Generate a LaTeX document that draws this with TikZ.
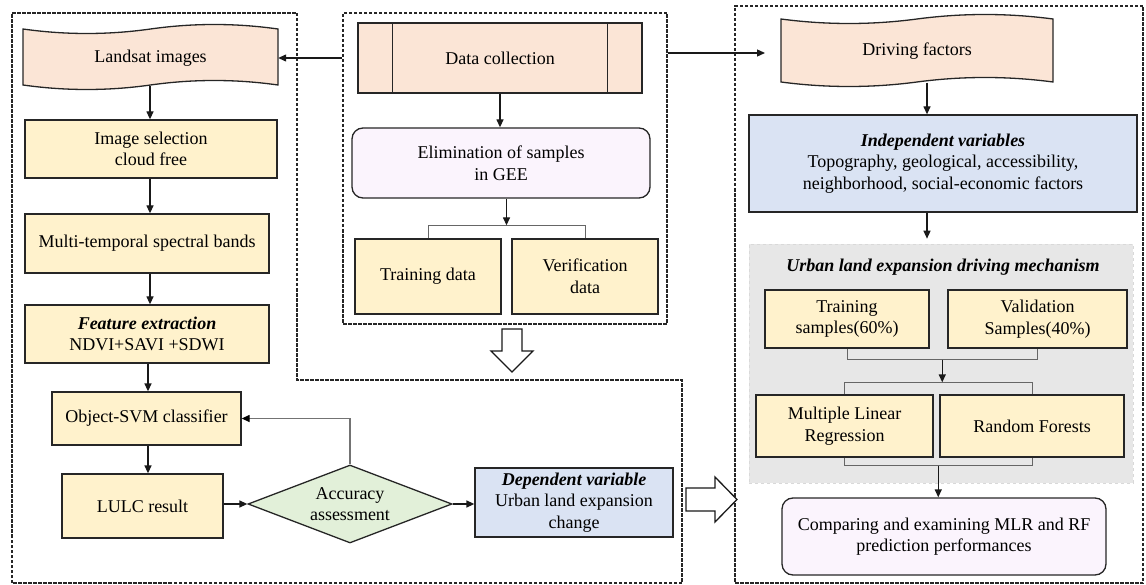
\documentclass[tikz,border=0pt]{standalone}
\usepackage{fontspec}
\setmainfont{Liberation Serif}
\usetikzlibrary{arrows.meta,shapes.geometric,calc}
\definecolor{peach}{HTML}{FBE5D6}
\definecolor{ylw}{HTML}{FFF2CC}
\definecolor{blu}{HTML}{DAE3F3}
\definecolor{grn}{HTML}{E2F0D9}
\definecolor{lav}{HTML}{FBF4FD}
\definecolor{gry}{HTML}{E7E7E7}
\tikzset{
  base/.style={font=\fontsize{18pt}{21.6pt}\selectfont, align=center, inner sep=0pt},
  box/.style={base, draw=black!85, line width=1.3pt, fill=ylw},
  bluebox/.style={box, fill=blu},
  roundbox/.style={box, fill=lav, rounded corners=11pt},
  tape/.style={draw=black!85, line width=1.3pt, fill=peach},
  dbox/.style={draw=black!85, line width=1.1pt, dash pattern=on 3.5pt off 1.5pt, inner sep=0pt},
  arr/.style={draw=black!90, line width=1.3pt, -{Triangle[length=8pt,width=7pt]}},
  brk/.style={draw=black!60, line width=1pt},
  garr/.style={draw=black!55, line width=1.3pt, -{Triangle[length=8pt,width=7pt,color=black]}},
  blockarrow/.style={draw=black!90, line width=1.3pt, fill=white},
}
\begin{document}
\begin{tikzpicture}[x=1pt,y=-1pt]
\useasboundingbox (0,0) rectangle (1146,585);

% dashed regions
\draw[dbox] (12,13) -- (297,13) -- (297,380) -- (682,380) -- (682,583) -- (12,583) -- cycle;
\node[dbox, minimum width=324pt, minimum height=311pt] (mid) at (505,168.5) {};
\node[dbox, minimum width=408pt, minimum height=577pt] (rbox) at (939,294.5) {};

% ---------- left column ----------
\draw[tape] (23,29) .. controls (65.5,35) and (108,35) .. (150.5,29)
  .. controls (193,23) and (235.5,23) .. (278,29) -- (278,85)
  .. controls (235.5,79) and (193,79) .. (150.5,85)
  .. controls (108,91) and (65.5,91) .. (23,85) -- cycle;
\node[base, minimum width=255pt, minimum height=56pt] (land) at (150.5,58) {Landsat images};

\node[box, minimum width=252pt, minimum height=58pt] (imgsel) at (151,149) {Image selection\\cloud free};
\node[box, minimum width=244pt, minimum height=59pt] (multi) at (147,243.5) {Multi-temporal spectral bands};
\node[box, minimum width=244pt, minimum height=58pt] (feat) at (147,334) {\textbf{\textit{Feature extraction}}\\NDVI+SAVI +SDWI};
\node[box, minimum width=189pt, minimum height=53pt] (svm) at (146.5,418.5) {Object-SVM classifier};
\node[box, minimum width=161pt, minimum height=64pt] (lulc) at (142.5,506) {LULC result};
\node[base, diamond, draw=black!85, line width=1.3pt, fill=grn, aspect=2.615,
      minimum width=204pt, minimum height=78pt] (acc) at (350,504) {Accuracy\\assessment};
\node[bluebox, minimum width=198pt, minimum height=69pt] (dep) at (574,502.5)
  {\textbf{\textit{Dependent variable}}\\Urban land expansion\\change};

\coordinate (cl) at (150,0);
\coordinate (cl2) at (148,0);
\draw[arr] (land.south -| cl) -- (imgsel.north -| cl);
\draw[arr] (imgsel.south -| cl) -- (multi.north -| cl);
\draw[arr] (multi.south -| cl) -- (feat.north -| cl);
\draw[arr] (feat.south -| cl2) -- (svm.north -| cl2);
\draw[arr] (svm.south -| cl2) -- (lulc.north -| cl2);
\draw[arr] (lulc.east |- acc.west) -- (acc.west);
\draw[garr] (acc.north) |- (svm.east);
\draw[arr] (acc.east) -- (acc.east -| dep.west);

% ---------- middle column ----------
\node[box, fill=peach, minimum width=284pt, minimum height=70pt] (dc) at (500,58) {Data collection};
\draw[draw=black!85, line width=1.3pt] ($(dc.north west)+(35,0)$) -- ($(dc.south west)+(35,0)$);
\draw[draw=black!85, line width=1.3pt] ($(dc.north east)+(-35,0)$) -- ($(dc.south east)+(-35,0)$);
\node[roundbox, minimum width=298pt, minimum height=70pt] (elim) at (501,163) {Elimination of samples\\in GEE};
\node[box, minimum width=146pt, minimum height=75pt] (train) at (428,276.5) {Training data};
\node[box, minimum width=146pt, minimum height=75pt] (verif) at (585,276.5) {Verification\\data};

\draw[arr] (dc.south) -- (dc.south |- elim.north);
\draw[brk] (train.north) -- ++(0,-13) -| (verif.north);
\coordinate (bk1) at ($(train.north)!0.5!(verif.north)+(0,-13)$);
\draw[arr] (elim.south -| bk1) -- (bk1);

\draw[arr] (mid.west |- land.east) -- (land.east);
\coordinate (drvin) at (765,53);
\draw[arr] (mid.east |- drvin) -- (drvin);

% block arrows
\draw[blockarrow] (502,329) -- (522,329) -- (522,351) -- (533,351) -- (512,372) -- (491,351) -- (502,351) -- cycle;
\draw[blockarrow] (686,488) -- (715,488) -- (715,477) -- (737,499.5) -- (715,522) -- (715,511) -- (686,511) -- cycle;

% ---------- right column ----------
\draw[tape] (781,19) .. controls (826.3,25) and (871.7,25) .. (917,19)
  .. controls (962.3,13) and (1007.7,13) .. (1053,19) -- (1053,82)
  .. controls (1007.7,76) and (962.3,76) .. (917,82)
  .. controls (871.7,88) and (826.3,88) .. (781,82) -- cycle;
\node[base, minimum width=272pt, minimum height=63pt] (drv) at (917,51) {Driving factors};

\node[bluebox, minimum width=388pt, minimum height=97pt] (indep) at (943,163.5)
  {\textbf{\textit{Independent variables}}\\Topography, geological, accessibility,\\neighborhood, social-economic factors};

\node[fill=gry, draw=gray!30, dashed, line width=0.6pt, inner sep=0pt,
      minimum width=384pt, minimum height=239pt] (mech) at (941,363.5) {};
\node[base] (mecht) at (943,267) {\bfseries\itshape Urban land expansion driving mechanism};

\coordinate (cr) at (927,0);
\draw[arr] (drv.south -| cr) -- (indep.north -| cr);
\draw[arr] (indep.south -| cr) -- ($(mech.north -| cr)+(0,-5)$);

\node[box, minimum width=164pt, minimum height=58pt] (ts) at (847,319) {Training\\samples(60\%)};
\node[box, minimum width=179pt, minimum height=58pt] (vs) at (1037.5,319) {Validation\\Samples(40\%)};
\node[box, minimum width=177pt, minimum height=62pt] (mlr) at (844.5,426) {Multiple Linear\\Regression};
\node[box, minimum width=184pt, minimum height=62pt] (rf) at (1032,426) {Random Forests};

\draw[brk] (ts.south) -- ++(0,11) -| (vs.south);
\coordinate (bk2) at ($(ts.south)!0.5!(vs.south)+(0,11)$);
\draw[brk] (mlr.north) -- ++(0,-12) -| (rf.north);
\coordinate (bk3) at ($(mlr.north)!0.5!(rf.north)+(0,-12)$);
\draw[arr] (bk2) -- (bk2 |- bk3);
\draw[brk] (mlr.south) -- ++(0,8) -| (rf.south);
\coordinate (bk4) at ($(mlr.south)!0.5!(rf.south)+(0,8)$);

\node[roundbox, minimum width=324pt, minimum height=77pt] (comp) at (944,536.5)
  {Comparing and examining MLR and RF\\prediction performances};
\draw[arr] (bk4) -- (bk4 |- comp.north);
\end{tikzpicture}
\end{document}
